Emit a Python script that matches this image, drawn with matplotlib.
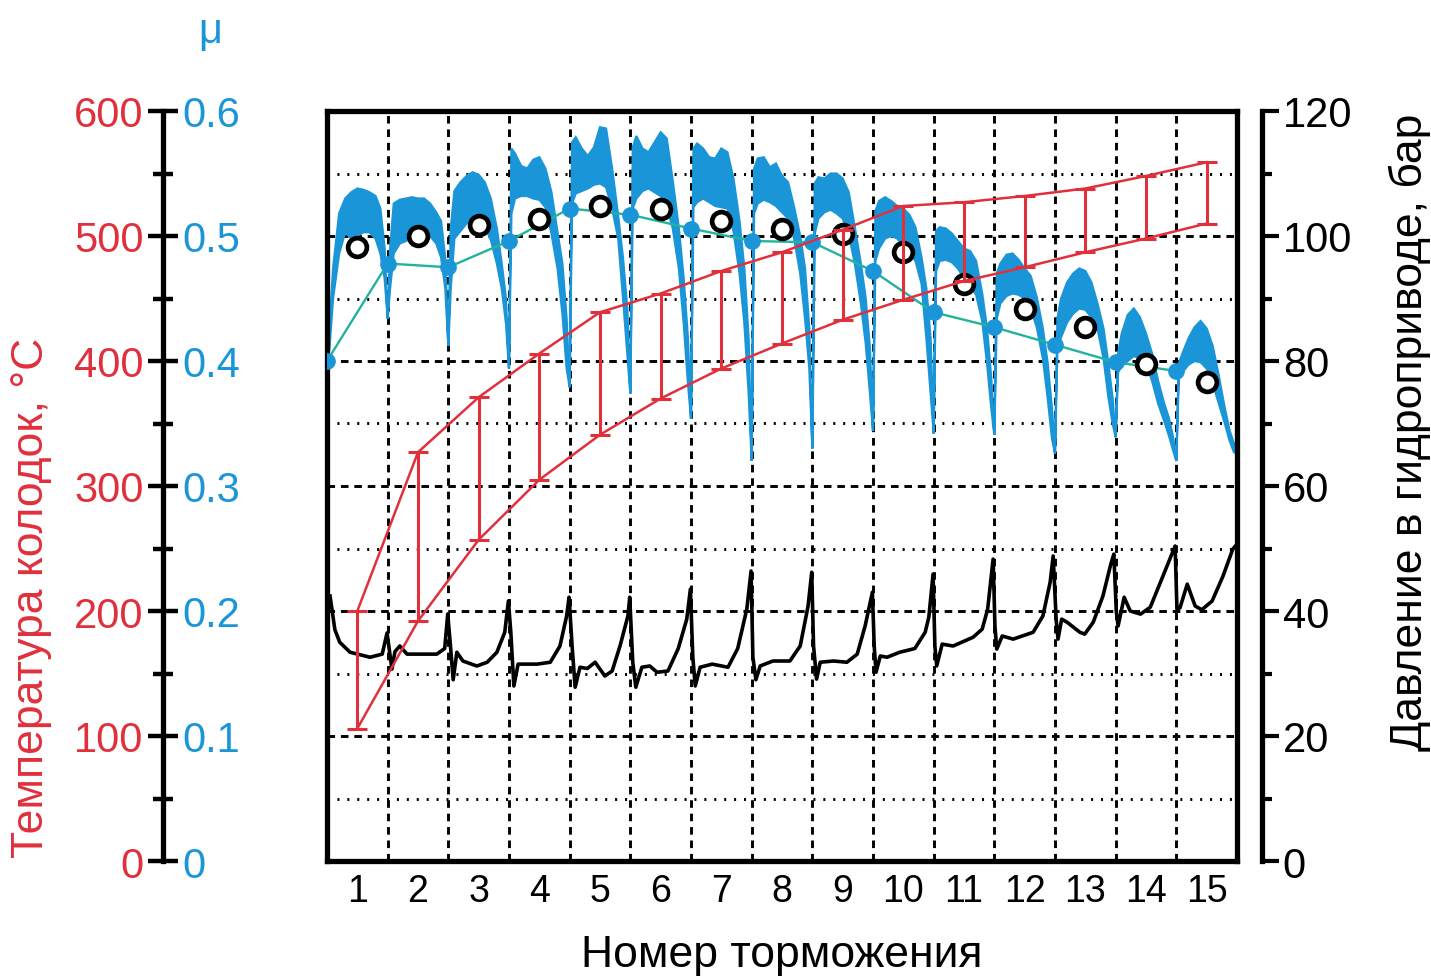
#!/usr/bin/env python3
"""
Brake test chart: pad temperature, friction coefficient and hydraulic
pressure over 15 consecutive brakings.
"""

import matplotlib
matplotlib.use("Agg")
import matplotlib.pyplot as plt
import numpy as np
from matplotlib import font_manager
from matplotlib.ticker import MultipleLocator, FixedLocator, FuncFormatter

# ---------------- data ----------------
brakings = np.arange(1, 16)

# pad temperature, deg C (range per braking)
temp_max = [200, 327, 371, 406, 439, 454, 472, 487, 505, 524, 527, 532, 538, 548, 559]
temp_min = [106, 192, 257, 305, 341, 370, 394, 414, 433, 449, 464, 475, 487, 498, 510]

# mean friction coefficient per braking (open circles)
mu_mean = [0.491, 0.500, 0.509, 0.514, 0.524, 0.522, 0.512, 0.506, 0.502,
           0.487, 0.462, 0.442, 0.427, 0.398, 0.383]

# friction coefficient at the start of each braking (teal line)
mu_start_x = np.arange(0, 15)
mu_start = [0.400, 0.478, 0.475, 0.496, 0.522, 0.517, 0.506, 0.496, 0.495,
            0.472, 0.439, 0.427, 0.413, 0.399, 0.392]

# raw friction trace: band envelope at phases inside each braking
mu_phase = [0.04, 0.10, 0.20, 0.30, 0.40, 0.50, 0.60, 0.70, 0.80, 0.88, 0.95]
mu_upper = [
    [0.426, 0.474, 0.518, 0.530, 0.535, 0.538, 0.537, 0.535, 0.532, 0.522, 0.490],
    [0.490, 0.526, 0.529, 0.530, 0.531, 0.530, 0.530, 0.526, 0.519, 0.512, 0.482],
    [0.506, 0.536, 0.543, 0.548, 0.551, 0.549, 0.543, 0.530, 0.506, 0.478, 0.450],
    [0.570, 0.566, 0.556, 0.554, 0.561, 0.563, 0.554, 0.535, 0.503, 0.478, 0.434],
    [0.575, 0.579, 0.570, 0.564, 0.571, 0.587, 0.586, 0.554, 0.516, 0.482, 0.442],
    [0.571, 0.580, 0.570, 0.567, 0.575, 0.583, 0.578, 0.544, 0.506, 0.466, 0.418],
    [0.570, 0.574, 0.570, 0.563, 0.562, 0.570, 0.567, 0.546, 0.512, 0.474, 0.418],
    [0.554, 0.562, 0.563, 0.555, 0.558, 0.548, 0.543, 0.523, 0.500, 0.474, 0.426],
    [0.542, 0.547, 0.546, 0.550, 0.550, 0.546, 0.535, 0.507, 0.478, 0.450, 0.410],
    [0.520, 0.528, 0.531, 0.528, 0.524, 0.522, 0.517, 0.507, 0.483, 0.458, 0.418],
    [0.504, 0.507, 0.506, 0.502, 0.496, 0.490, 0.488, 0.480, 0.454, 0.426, 0.386],
    [0.470, 0.478, 0.485, 0.486, 0.481, 0.474, 0.468, 0.451, 0.426, 0.398, 0.362],
    [0.434, 0.450, 0.463, 0.470, 0.474, 0.472, 0.463, 0.446, 0.426, 0.398, 0.370],
    [0.406, 0.422, 0.437, 0.442, 0.435, 0.422, 0.406, 0.384, 0.366, 0.354, 0.338],
    [0.398, 0.406, 0.418, 0.427, 0.432, 0.426, 0.412, 0.388, 0.362, 0.344, 0.334],
]
mu_lower = [
    [0.410, 0.450, 0.486, 0.503, 0.498, 0.500, 0.503, 0.503, 0.498, 0.486, 0.466],
    [0.458, 0.486, 0.494, 0.496, 0.498, 0.500, 0.503, 0.500, 0.494, 0.483, 0.458],
    [0.458, 0.498, 0.504, 0.510, 0.513, 0.512, 0.508, 0.497, 0.478, 0.458, 0.430],
    [0.518, 0.530, 0.532, 0.532, 0.530, 0.529, 0.523, 0.502, 0.474, 0.438, 0.394],
    [0.526, 0.534, 0.536, 0.538, 0.541, 0.542, 0.539, 0.522, 0.498, 0.450, 0.406],
    [0.522, 0.530, 0.536, 0.538, 0.535, 0.532, 0.524, 0.506, 0.474, 0.430, 0.382],
    [0.523, 0.527, 0.530, 0.527, 0.524, 0.523, 0.522, 0.504, 0.470, 0.430, 0.374],
    [0.518, 0.526, 0.529, 0.527, 0.524, 0.519, 0.514, 0.498, 0.470, 0.434, 0.394],
    [0.502, 0.514, 0.519, 0.521, 0.518, 0.514, 0.502, 0.478, 0.446, 0.414, 0.374],
    [0.480, 0.490, 0.498, 0.500, 0.498, 0.492, 0.487, 0.480, 0.462, 0.418, 0.374],
    [0.472, 0.480, 0.481, 0.479, 0.474, 0.466, 0.460, 0.453, 0.432, 0.398, 0.362],
    [0.434, 0.446, 0.452, 0.454, 0.453, 0.450, 0.442, 0.427, 0.402, 0.370, 0.338],
    [0.410, 0.419, 0.431, 0.438, 0.442, 0.441, 0.435, 0.426, 0.402, 0.371, 0.350],
    [0.391, 0.396, 0.400, 0.404, 0.402, 0.398, 0.384, 0.366, 0.352, 0.340, 0.328],
    [0.386, 0.391, 0.397, 0.400, 0.399, 0.394, 0.382, 0.366, 0.350, 0.336, 0.327],
]
# minimum of the trace at the boundaries between brakings (0..15)
mu_dip = [0.400, 0.434, 0.412, 0.394, 0.379, 0.374, 0.354, 0.320,
          0.330, 0.344, 0.342, 0.341, 0.326, 0.339, 0.320, 0.326]
mu_tail = 0.362

# hydraulic pressure trace, bar
pressure_x = [
    0.05, 0.13, 0.21, 0.38, 0.71, 0.91, 0.99,
    1.07, 1.12, 1.20, 1.32, 1.81, 1.94, 1.99,
    2.03, 2.08, 2.14, 2.24, 2.47, 2.64, 2.80, 2.93, 2.99,
    3.03, 3.08, 3.15, 3.46, 3.68, 3.84, 3.95, 3.99,
    4.04, 4.09, 4.17, 4.29, 4.42, 4.58, 4.70, 4.83, 4.96, 4.99,
    5.04, 5.09, 5.19, 5.32, 5.44, 5.62, 5.79, 5.93, 5.99,
    6.03, 6.07, 6.15, 6.35, 6.61, 6.77, 6.92, 6.99,
    7.02, 7.07, 7.14, 7.35, 7.63, 7.80, 7.93, 7.99,
    8.02, 8.07, 8.13, 8.35, 8.57, 8.74, 8.87, 8.99,
    9.02, 9.05, 9.12, 9.23, 9.44, 9.69, 9.86, 9.92, 9.99,
    10.02, 10.05, 10.14, 10.32, 10.65, 10.80, 10.89, 10.98,
    11.01, 11.04, 11.13, 11.31, 11.64, 11.80, 11.92, 11.97,
    12.02, 12.05, 12.11, 12.20, 12.41, 12.49, 12.63, 12.79, 12.92, 12.97,
    13.01, 13.04, 13.14, 13.24, 13.41, 13.57, 13.78, 13.98,
    14.01, 14.06, 14.18, 14.31, 14.42, 14.59, 14.77, 14.93, 15.00,
]
pressure_bar = [
    42.4, 37.0, 35.0, 33.4, 32.6, 33.1, 36.5,
    30.7, 33.5, 34.4, 33.1, 33.1, 34.0, 39.5,
    35.0, 29.0, 33.4, 32.0, 31.2, 31.8, 33.4, 36.6, 41.6,
    36.6, 28.0, 31.5, 31.5, 31.8, 34.4, 39.2, 42.2,
    34.4, 27.8, 31.0, 30.8, 31.8, 29.6, 30.4, 34.4, 39.2, 42.2,
    31.8, 27.8, 31.0, 31.2, 30.2, 30.4, 34.0, 38.7, 43.5,
    32.6, 28.0, 31.0, 31.5, 31.0, 34.0, 40.3, 46.4,
    32.6, 29.0, 31.2, 32.0, 32.0, 34.4, 40.8, 46.2,
    34.4, 29.1, 31.8, 32.0, 31.8, 33.1, 37.6, 43.0,
    34.4, 30.2, 32.8, 32.6, 33.4, 34.0, 36.6, 39.0, 45.9,
    34.4, 31.2, 34.7, 34.4, 35.8, 37.1, 40.3, 48.3,
    37.6, 33.9, 36.0, 35.5, 36.6, 39.2, 44.6, 48.8,
    38.5, 35.5, 38.7, 38.2, 36.6, 36.3, 38.2, 42.4, 47.5, 49.1,
    40.0, 37.6, 42.2, 40.0, 39.5, 40.6, 45.6, 50.4,
    40.3, 40.5, 44.3, 40.8, 40.2, 41.6, 45.6, 49.9, 50.7,
]

# ---------------- style ----------------
RED = '#e0303c'
BLUE = '#1a96d8'
TEAL = '#22b39c'


def pick_font(name, fallback):
    try:
        font_manager.findfont(name, fallback_to_default=False)
        return name
    except ValueError:
        return fallback


plt.rcParams['font.family'] = ['Liberation Sans', 'DejaVu Sans']
narrow = pick_font('Liberation Sans Narrow', 'Liberation Sans')

W, H = 1431, 979
fig = plt.figure(figsize=(W / 100, H / 100), dpi=100)

left, right, top, bottom = 327 / W, 1237 / W, 1 - 112 / H, 1 - 862 / H
ax = fig.add_axes([left, bottom, right - left, top - bottom])
ax.set_xlim(0, 15)
ax.set_ylim(0, 0.6)

for s in ax.spines.values():
    s.set_linewidth(3.8)

# grid
ax.xaxis.set_major_locator(FixedLocator(brakings - 0.5))
ax.set_xticklabels([str(b) for b in brakings], family=[narrow, 'Liberation Sans'],
                   fontsize=30 if narrow != 'Liberation Sans' else 27)
ax.xaxis.set_minor_locator(FixedLocator(np.arange(1, 15)))
ax.yaxis.set_major_locator(MultipleLocator(0.1))
ax.yaxis.set_minor_locator(MultipleLocator(0.05))
ax.tick_params(axis='x', which='both', length=0, pad=9)
ax.tick_params(axis='y', which='both', length=0, labelleft=False)
ax.xaxis.grid(True, which='minor', color='k', lw=2.1, ls=(0, (2.6, 2.0)))
ax.yaxis.grid(True, which='major', color='k', lw=2.1, ls=(0, (2.6, 2.0)))
ax.yaxis.grid(True, which='minor', color='k', lw=2.1, ls=(0, (0.7, 2.7)))
ax.set_axisbelow(True)

# raw friction trace as a filled band per braking
for k in range(15):
    xs = k + np.array(mu_phase)
    px = np.concatenate([[k], xs, [k + 1], xs[::-1]])
    py = np.concatenate([[mu_dip[k]], mu_upper[k], [mu_dip[k + 1]], mu_lower[k][::-1]])
    ax.fill(px, py, color=BLUE, ec=BLUE, lw=1.6, zorder=2)
ax.plot([15, 15], [mu_dip[15], mu_tail], color=BLUE, lw=2, zorder=2)

ax.plot(mu_start_x, mu_start, color=TEAL, lw=1.7, zorder=3)
ax.plot(mu_start_x, mu_start, 'o', ms=11, color=BLUE, zorder=4)
ax.plot(brakings - 0.5, mu_mean, 'o', ms=13.5, mfc='white', mec='black', mew=3.4, zorder=5)

ax.set_xlabel('Номер торможения', fontsize=32)
ax.xaxis.set_label_coords(0.5, -0.124)
ax.xaxis.label.set_va('center')

# pressure axis (right)
axp = ax.twinx()
axp.set_ylim(0, 120)
for s in ['top', 'left', 'bottom']:
    axp.spines[s].set_visible(False)
axp.spines['right'].set_position(('outward', 18))
axp.spines['right'].set_linewidth(3.8)
axp.yaxis.set_major_locator(MultipleLocator(20))
axp.yaxis.set_minor_locator(MultipleLocator(10))
axp.tick_params(axis='y', which='major', direction='out', length=12, width=3,
                labelsize=30, pad=3)
axp.tick_params(axis='y', which='minor', direction='out', length=7, width=3)
axp.plot(pressure_x, pressure_bar, color='black', lw=2.6, zorder=3)

# temperature (drawn on a hidden twin)
axt = ax.twinx()
axt.set_ylim(0, 600)
axt.set_axis_off()
axt.plot(brakings - 0.5, temp_max, color=RED, lw=1.8)
axt.plot(brakings - 0.5, temp_min, color=RED, lw=1.8)
axt.errorbar(brakings - 0.5, temp_max,
             yerr=[np.subtract(temp_max, temp_min), np.zeros(15)],
             fmt='none', ecolor=RED, elinewidth=2.2, capsize=7.5, capthick=2.2)

# left scale: temperature (red, left) and mu (blue, right)
axl = fig.add_axes([163 / W, bottom, 0.0001, top - bottom])
axl.set_ylim(0, 600)
axl.set_xticks([])
axl.patch.set_visible(False)
for s in ['top', 'bottom', 'right']:
    axl.spines[s].set_visible(False)
axl.spines['left'].set_linewidth(3.8)
axl.yaxis.set_major_locator(MultipleLocator(100))
axl.yaxis.set_minor_locator(MultipleLocator(50))
axl.tick_params(axis='y', which='major', direction='inout', length=21, width=3.2,
                labelsize=30, labelcolor=RED, pad=3.5)
axl.tick_params(axis='y', which='minor', direction='inout', length=14, width=3.2)

axm = axl.twinx()
axm.set_ylim(0, 0.6)
for s in axm.spines.values():
    s.set_visible(False)
axm.yaxis.set_major_locator(MultipleLocator(0.1))
axm.yaxis.set_major_formatter(FuncFormatter(lambda v, p: '0' if abs(v) < 1e-9 else f'{v:.1f}'))
axm.tick_params(axis='y', which='both', length=0, labelsize=30, labelcolor=BLUE, pad=14)

fig.text(210 / W, 1 - 32 / H, 'μ', color=BLUE, fontsize=30, ha='center', va='center')
fig.text(32 / W, 1 - 598 / H, 'Температура колодок, °С', color=RED, fontsize=32,
         rotation=90, ha='center', va='center')
fig.text(1410 / W, 1 - 432 / H, 'Давление в гидроприводе, бар', fontsize=32,
         rotation=90, ha='center', va='center')

fig.savefig('out.png', dpi=100)
